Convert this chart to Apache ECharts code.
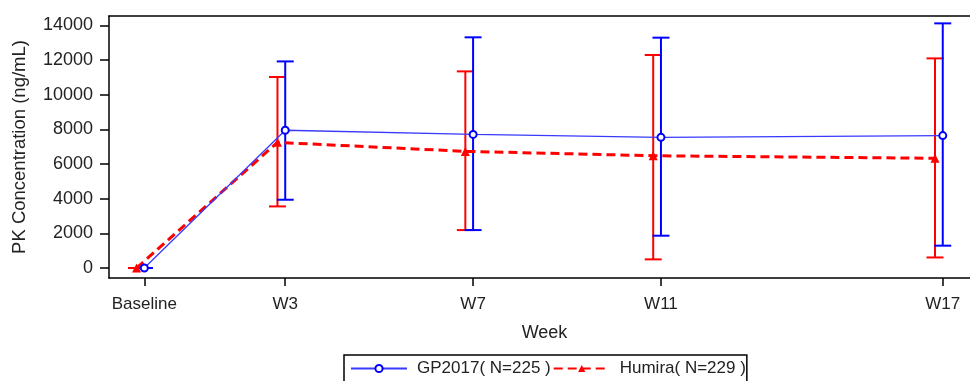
<!DOCTYPE html>
<html>
<head>
<meta charset="utf-8">
<script src="https://cdn.jsdelivr.net/npm/echarts@6/dist/echarts.min.js"></script>
<style>
html,body{margin:0;padding:0;background:#fff;}
#chart{width:970px;height:381px;}
</style>
</head>
<body>
<div id="chart"></div>
<script>
// ---- data ----
const weeks = [0, 3, 7, 11, 17];
const weekLabels = ['Baseline', 'W3', 'W7', 'W11', 'W17'];
const gpName = 'GP2017( N=225 )';
const gpMean = [0, 7950, 7710, 7540, 7640];
const gpUpper = [0, 11920, 13310, 13290, 14115];
const gpLower = [0, 3940, 2190, 1865, 1290];
const huName = 'Humira( N=229 )';
const huMean = [0, 7250, 6730, 6480, 6330];
const huUpper = [0, 11020, 11345, 12290, 12095];
const huLower = [0, 3555, 2190, 500, 610];
const huDodge = -0.165; // horizontal dodge of the Humira group, in weeks
const yTicks = [0, 2000, 4000, 6000, 8000, 10000, 12000, 14000];

const FONT = '"Liberation Sans", Arial, sans-serif';
const TXT = '#222';
const BLUE = '#0000ff';
const RED = '#ff0000';
const X_MIN = -0.752, X_MAX = 17.58;

const gpX = weeks.slice();
const huX = weeks.map(w => w + huDodge);

function lineData(xs, ys) { return xs.map((x, i) => [x, ys[i]]); }
function errData(xs, lo, hi) { return xs.map((x, i) => [x, lo[i], hi[i]]); }

function errRender(color) {
  return function (params, api) {
    const x = api.value(0), lo = api.value(1), hi = api.value(2);
    const pLo = api.coord([x, lo]);
    const pHi = api.coord([x, hi]);
    const hw = 8.5;
    const st = { stroke: color, lineWidth: 2 };
    return {
      type: 'group',
      children: [
        { type: 'line', shape: { x1: pLo[0], y1: pLo[1], x2: pHi[0], y2: pHi[1] }, style: st },
        { type: 'line', shape: { x1: pHi[0] - hw, y1: pHi[1], x2: pHi[0] + hw, y2: pHi[1] }, style: st },
        { type: 'line', shape: { x1: pLo[0] - hw, y1: pLo[1], x2: pLo[0] + hw, y2: pLo[1] }, style: st }
      ]
    };
  };
}

const chart = echarts.init(document.getElementById('chart'), null, { renderer: 'canvas' });
chart.setOption({
  animation: false,
  backgroundColor: '#fff',
  grid: { left: 109, right: 0, top: 16, bottom: 103, show: false },
  xAxis: [
    {
      type: 'value',
      min: X_MIN, max: X_MAX,
      name: 'Week',
      nameLocation: 'middle',
      nameGap: 46,
      nameTextStyle: { fontFamily: FONT, fontSize: 18, color: TXT, padding: [0, 0, 0, 10] },
      axisLine: { show: true, onZero: false, lineStyle: { color: '#000', width: 1.5 } },
      axisTick: { show: true, length: 8, lineStyle: { color: '#000', width: 1.5 }, customValues: weeks },
      axisLabel: {
        customValues: weeks,
        margin: 18,
        fontFamily: FONT, fontSize: 17, color: TXT,
        formatter: v => { const i = weeks.indexOf(v); return i >= 0 ? weekLabels[i] : ''; }
      },
      splitLine: { show: false }
    },
    {
      type: 'value', position: 'top',
      min: X_MIN, max: X_MAX,
      axisLine: { show: true, onZero: false, lineStyle: { color: '#000', width: 1.5 } },
      axisTick: { show: false }, axisLabel: { show: false }, splitLine: { show: false }
    }
  ],
  yAxis: {
    type: 'value',
    min: -575, max: 14540,
    name: 'PK Concentration (ng/mL)',
    nameLocation: 'middle',
    nameGap: 80,
    nameTextStyle: { fontFamily: FONT, fontSize: 18.5, color: TXT },
    axisLine: { show: true, onZero: false, lineStyle: { color: '#000', width: 1.5 } },
    axisTick: { show: true, length: 9, lineStyle: { color: '#000', width: 1.5 }, customValues: yTicks },
    axisLabel: {
      customValues: yTicks, margin: 16, fontFamily: FONT, fontSize: 18, color: TXT,
      formatter: v => String(v)
    },
    splitLine: { show: false }
  },
  legend: {
    left: 344, top: 355,
    orient: 'horizontal',
    itemWidth: 56, itemHeight: 9, itemGap: 2,
    padding: [5, 1, 5, 6],
    borderColor: '#000', borderWidth: 1.5,
    textStyle: { fontFamily: FONT, fontSize: 17, color: TXT, padding: [0, 0, 0, 5] },
    data: [gpName, huName]
  },
  series: [
    {
      name: gpName + ' err', type: 'custom', renderItem: errRender(BLUE),
      data: errData(gpX, gpLower, gpUpper), encode: { x: 0, y: [1, 2] }, z: 3, silent: true
    },
    {
      name: huName + ' err', type: 'custom', renderItem: errRender(RED),
      data: errData(huX, huLower, huUpper), encode: { x: 0, y: [1, 2] }, z: 2, silent: true
    },
    {
      name: huName, type: 'line', data: lineData(huX, huMean),
      symbol: 'triangle', symbolSize: 9,
      itemStyle: { color: RED },
      lineStyle: { color: RED, width: 3, type: [9, 5] },
      z: 4
    },
    {
      name: gpName, type: 'line', data: lineData(gpX, gpMean),
      symbol: 'emptyCircle', symbolSize: 7,
      itemStyle: { color: BLUE, borderColor: BLUE, borderWidth: 1.5 },
      lineStyle: { color: '#3a3aff', width: 1.3 },
      z: 5
    }
  ]
});
</script>
</body>
</html>
